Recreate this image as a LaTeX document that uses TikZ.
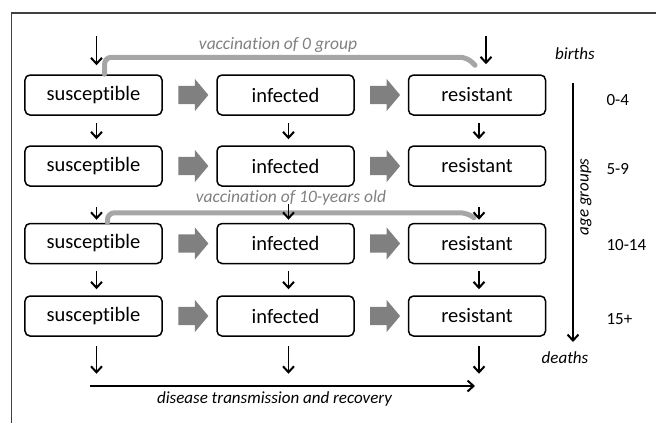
\documentclass[tikz,border=0pt]{standalone}
\usepackage{fontspec}
\setmainfont{Carlito}[Ligatures=NoCommon]
\usetikzlibrary{arrows.meta,calc,shapes.arrows}

\begin{document}
\begin{tikzpicture}[x=1bp, y=-1bp,
  comp_box/.style={draw, rounded corners=5bp, line width=1.5bp, minimum width=137bp, minimum height=40bp, inner sep=0pt, font=\fontsize{20.5bp}{24bp}\selectfont},
  fat_arrow/.style={single arrow, fill=black!50, draw=none, inner xsep=0pt, inner ysep=9bp, minimum height=30bp, single arrow head extend=7bp, single arrow tip angle=100},
  flow/.style={-{Straight Barb[length=6bp,width=11bp,line width=2bp]}, line width=1.9bp},
  vac_line/.style={draw=black!35, line width=5bp, line cap=round, rounded corners=7bp},
  side_label/.style={font=\fontsize{17bp}{20bp}\selectfont\itshape},
  vac_label/.style={text=black!50, font=\fontsize{17.5bp}{20bp}\selectfont\itshape},
  age_label/.style={anchor=west, font=\fontsize{17bp}{20bp}\selectfont}]
				\useasboundingbox (0,0) rectangle (656,423);
				\draw[line width=1.2bp, black!75] (11.5,423) -- (11.5,13) -- (656,13);
				% compartments, one row per age group
				\node[comp_box] (s1) at (93.5,95) {susceptible};
				\node[comp_box] (i1) at (285.5,95) {infected};
				\node[comp_box] (r1) at (477,95) {resistant};
				\node[comp_box] (s2) at (93.5,166) {susceptible};
				\node[comp_box] (i2) at (285.5,166) {infected};
				\node[comp_box] (r2) at (477,166) {resistant};
				\node[comp_box] (s3) at (93.5,243.5) {susceptible};
				\node[comp_box] (i3) at (285.5,243.5) {infected};
				\node[comp_box] (r3) at (477,243.5) {resistant};
				\node[comp_box] (s4) at (93.5,316) {susceptible};
				\node[comp_box] (i4) at (285.5,316) {infected};
				\node[comp_box] (r4) at (477,316) {resistant};
				% transmission and recovery
				\node[fat_arrow] (si1) at ($(s1.east)!0.5!(i1.west)$) {};
				\node[fat_arrow] (ir1) at ($(i1.east)!0.5!(r1.west)$) {};
				\node[fat_arrow] (si2) at ($(s2.east)!0.5!(i2.west)$) {};
				\node[fat_arrow] (ir2) at ($(i2.east)!0.5!(r2.west)$) {};
				\node[fat_arrow] (si3) at ($(s3.east)!0.5!(i3.west)$) {};
				\node[fat_arrow] (ir3) at ($(i3.east)!0.5!(r3.west)$) {};
				\node[fat_arrow] (si4) at ($(s4.east)!0.5!(i4.west)$) {};
				\node[fat_arrow] (ir4) at ($(i4.east)!0.5!(r4.west)$) {};
				% vaccination
				\draw[vac_line] ([xshift=11bp]s1.north) |- ([xshift=-10bp,yshift=17bp]r1.north) -- ([xshift=-2bp,yshift=9bp]r1.north);
				\draw[vac_line] ([xshift=14bp]s3.north) |- ([xshift=-10bp,yshift=10bp]r3.north) -- ([xshift=-3bp,yshift=5bp]r3.north);
				\node[vac_label] (v0) at (278,45) {vaccination of 0 group};
				\node[vac_label] (v10) at (291,198) {vaccination of 10-years old};
				% births
				\draw[flow] ([xshift=3bp,yshift=38bp]s1.north) -- ([xshift=3bp,yshift=9bp]s1.north);
				\draw[flow] ([xshift=9bp,yshift=38bp]r1.north) -- ([xshift=9bp,yshift=10bp]r1.north);
				% ageing
				\draw[flow, shorten <=7bp, shorten >=6bp] ([xshift=3bp]s1.south) -- ([xshift=3bp]s2.north);
				\draw[flow, shorten <=7bp, shorten >=6bp] ([xshift=3bp]i1.south) -- ([xshift=3bp]i2.north);
				\draw[flow, shorten <=7bp, shorten >=6bp] ([xshift=2bp]r1.south) -- ([xshift=2bp]r2.north);
				\draw[flow, shorten <=20bp, shorten >=3bp] ([xshift=3bp]s2.south) -- ([xshift=3bp]s3.north);
				\draw[flow, shorten <=17bp, shorten >=3bp] ([xshift=3bp]i2.south) -- ([xshift=3bp]i3.north);
				\draw[flow, shorten <=20bp, shorten >=3bp] ([xshift=2bp]r2.south) -- ([xshift=2bp]r3.north);
				\draw[flow, shorten <=7bp, shorten >=6bp] ([xshift=3bp]s3.south) -- ([xshift=3bp]s4.north);
				\draw[flow, shorten <=7bp, shorten >=6bp] ([xshift=3bp]i3.south) -- ([xshift=3bp]i4.north);
				\draw[flow, shorten <=7bp, shorten >=6bp] ([xshift=2bp]r3.south) -- ([xshift=2bp]r4.north);
				% deaths
				\draw[flow] ([xshift=3bp,yshift=-9bp]s4.south) -- ([xshift=3bp,yshift=-37bp]s4.south);
				\draw[flow] ([xshift=3bp,yshift=-9bp]i4.south) -- ([xshift=3bp,yshift=-37bp]i4.south);
				\draw[flow] ([xshift=2bp,yshift=-9bp]r4.south) -- ([xshift=2bp,yshift=-37bp]r4.south);
				\coordinate (d_start) at (90,386);
				\coordinate (d_end) at (475,386);
				\draw[flow] (d_start) -- node[side_label, below=1bp, xshift=-8bp]{disease transmission and recovery} (d_end);
				% age axis
				\coordinate (age_top) at (573,83);
				\coordinate (age_bot) at (573,342);
				\draw[flow] (age_top) -- (age_bot);
				\node[side_label, rotate=90] (ages) at (586,197) {age groups};
				\node[side_label] (births) at (575,54) {births};
				\node[side_label] (deaths) at (565,358) {deaths};
				\node[age_label] (a1) at (603,100) {0-4};
				\node[age_label] (a2) at (603,169) {5-9};
				\node[age_label] (a3) at (603,245) {10-14};
				\node[age_label] (a4) at (603,319) {15+};
			\end{tikzpicture}
\end{document}
